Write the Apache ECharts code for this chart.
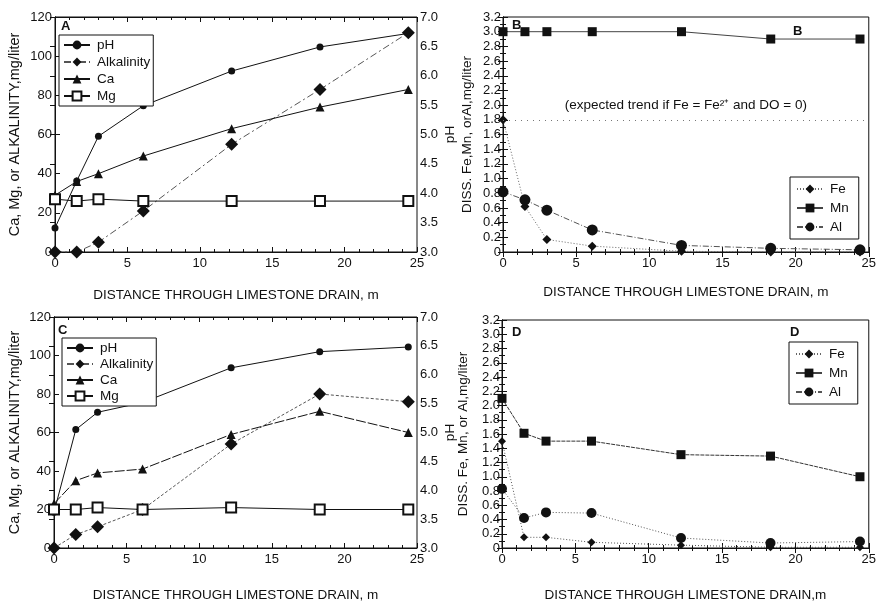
<!DOCTYPE html>
<html>
<head>
<meta charset="utf-8">
<script src="https://cdn.jsdelivr.net/npm/echarts@6/dist/echarts.min.js"></script>
<style>
  html, body { margin: 0; padding: 0; background: #fff; }
  #chart { width: 879px; height: 603px; }
</style>
</head>
<body>
<div id="chart"></div>
<script>
// distance along the drain, m
const dist = [0, 1.5, 3.0, 6.1, 12.2, 18.3, 24.4];

// panel A
const phA = [3.41, 4.21, 4.97, 5.49, 6.08, 6.49, 6.72];
const alkA = [0, 0, 5, 21, 55, 83, 112];
const caA = [29, 36, 40, 49, 63, 74, 83];
const mgA = [27, 26, 27, 26, 26, 26, 26];

// panel B
const feB = [1.8, 0.62, 0.17, 0.08, 0.01, 0.0, 0.0];
const mnB = [3.0, 3.0, 3.0, 3.0, 3.0, 2.9, 2.9];
const alB = [0.82, 0.71, 0.57, 0.30, 0.09, 0.05, 0.03];
const feExpected = 1.8;

// panel C
const phC = [3.62, 5.05, 5.35, 5.52, 6.12, 6.40, 6.48];
const alkC = [0, 7, 11, 20, 54, 80, 76];
const caC = [23, 35, 39, 41, 59, 71, 60];
const mgC = [20, 20, 21, 20, 21, 20, 20];

// panel D
const feD = [1.5, 0.15, 0.15, 0.08, 0.04, 0.01, 0.01];
const mnD = [2.1, 1.61, 1.5, 1.5, 1.31, 1.29, 1.0];
const alD = [0.83, 0.42, 0.50, 0.49, 0.14, 0.07, 0.09];

const legendAC = ['pH', 'Alkalinity', 'Ca', 'Mg'];
const legendBD = ['Fe', 'Mn', 'Al'];

const FONT = "'Liberation Sans', Arial, sans-serif";
const INK = '#111';

function pts(vals) {
  return dist.map((d, i) => [d, vals[i]]);
}

const grids = [
  { left: 55, top: 17, width: 362, height: 235 },
  { left: 503, top: 17, width: 367, height: 235 },
  { left: 54, top: 317, width: 363, height: 238 },
  { left: 502, top: 320, width: 368, height: 235 }
].map(g => Object.assign(g, { show: true, borderColor: INK, borderWidth: 1, backgroundColor: 'transparent' }));

const lineAx = { show: true, lineStyle: { color: INK, width: 1 } };

function xAx(gi, name, gap, top) {
  return {
    type: 'value', gridIndex: gi, min: 0, max: 25, interval: 5,
    position: top ? 'top' : 'bottom',
    name: top ? '' : name, nameLocation: 'middle', nameGap: gap,
    nameTextStyle: { fontFamily: FONT, fontSize: 13.5, color: INK },
    axisLine: lineAx,
    axisTick: { show: true, inside: true, length: 5, lineStyle: { color: INK } },
    minorTick: { show: true, splitNumber: 5, length: 3, lineStyle: { color: INK } },
    axisLabel: { show: !top, fontFamily: FONT, fontSize: 13, color: INK, margin: 5 },
    splitLine: { show: false }
  };
}

function yAx(gi, o) {
  return Object.assign({
    type: 'value', gridIndex: gi,
    nameLocation: 'middle',
    nameTextStyle: { fontFamily: FONT, fontSize: 13.5, color: INK },
    axisLine: lineAx,
    axisTick: { show: true, inside: true, length: 5, lineStyle: { color: INK } },
    axisLabel: { fontFamily: FONT, fontSize: 13, color: INK, margin: 3 },
    splitLine: { show: false }
  }, o);
}

const concLeft = (gi, gap) => yAx(gi, {
  min: 0, max: 120, interval: 20, position: 'left',
  name: 'Ca, Mg, or ALKALINITY,mg/liter', nameGap: gap,
  nameTextStyle: { fontFamily: FONT, fontSize: 14.5, color: INK }
});
const phRight = (gi) => yAx(gi, {
  min: 3, max: 7, interval: 0.5, position: 'right',
  name: 'pH', nameGap: 26, nameRotate: 90,
  axisLabel: { fontFamily: FONT, fontSize: 13, color: INK, margin: 3, formatter: v => v.toFixed(1) }
});
const dissLeft = (gi, name, gap) => yAx(gi, {
  min: 0, max: 3.2, interval: 0.2, position: 'left',
  name: name, nameGap: gap,
  minorTick: { show: true, splitNumber: 2, length: 3, lineStyle: { color: INK } },
  axisLabel: { fontFamily: FONT, fontSize: 13, color: INK, margin: 2,
    formatter: v => (Math.abs(v) < 1e-9 ? '0' : v.toFixed(1)) }
});
const dissRight = (gi) => yAx(gi, {
  min: 0, max: 3.2, interval: 0.2, position: 'right',
  minorTick: { show: true, splitNumber: 2, length: 3, lineStyle: { color: INK } },
  axisLabel: { show: false }
});

const xAxes = [
  xAx(0, 'DISTANCE THROUGH LIMESTONE DRAIN, m', 36),
  xAx(1, 'DISTANCE THROUGH LIMESTONE DRAIN, m', 33),
  xAx(2, 'DISTANCE THROUGH LIMESTONE DRAIN, m', 40),
  xAx(3, 'DISTANCE THROUGH LIMESTONE DRAIN,m', 40),
  xAx(0, '', 0, true), xAx(1, '', 0, true), xAx(2, '', 0, true), xAx(3, '', 0, true)
];

const yAxes = [
  concLeft(0, 33), phRight(0),
  dissLeft(1, 'DISS. Fe,Mn, orAl,mg/liter', 29), dissRight(1),
  concLeft(2, 32), phRight(2),
  dissLeft(3, 'DISS. Fe, Mn, or Al,mg/liter', 32), dissRight(3)
];

function ser(name, xi, yi, vals, sym, size, ls, extra) {
  return Object.assign({
    name: name, type: 'line', xAxisIndex: xi, yAxisIndex: yi,
    data: pts(vals), symbol: sym, symbolSize: size,
    itemStyle: { color: INK, borderWidth: 1 },
    lineStyle: Object.assign({ color: INK, width: 1 }, ls),
    z: 3
  }, extra || {});
}

const series = [
  // A
  ser('pH', 0, 1, phA, 'circle', 7, {}),
  ser('Alkalinity', 0, 0, alkA, 'diamond', 13, { color: '#555', type: [7, 3, 2, 3] }),
  ser('Ca', 0, 0, caA, 'triangle', 9, {}),
  ser('Mg', 0, 0, mgA, 'emptyRect', 10, {}),
  // B
  ser('Fe', 1, 2, feB, 'diamond', 9, { color: '#666', type: [1, 2] }, {
    markLine: {
      silent: true, symbol: 'none',
      lineStyle: { color: '#777', type: [1, 5], width: 1 },
      label: { show: true, position: 'middle', distance: 8, color: INK, fontFamily: FONT, fontSize: 13.5,
        formatter: '(expected trend if Fe = Fe²⁺ and DO = 0)' },
      data: [{ yAxis: feExpected }]
    }
  }),
  ser('Mn', 1, 2, mnB, 'rect', 9, { color: '#444' }),
  ser('Al', 1, 2, alB, 'circle', 11, { color: '#555', type: [6, 2, 1, 2] }),
  // C
  ser('pH', 2, 5, phC, 'circle', 7, {}),
  ser('Alkalinity', 2, 4, alkC, 'diamond', 13, { color: '#555', type: [3, 2] }),
  ser('Ca', 2, 4, caC, 'triangle', 9, { type: [10, 2] }),
  ser('Mg', 2, 4, mgC, 'emptyRect', 10, {}),
  // D
  ser('Fe', 3, 6, feD, 'diamond', 8, { color: '#555', type: [1, 2] }),
  ser('Mn', 3, 6, mnD, 'rect', 9, { color: '#333', type: [4, 1] }),
  ser('Al', 3, 6, alD, 'circle', 10, { color: '#555', type: [1, 2] })
];

function leg(names, left, top, gap, pad) {
  return {
    data: names, orient: 'vertical', left: left, top: top,
    borderColor: INK, borderWidth: 1, backgroundColor: '#fff',
    padding: pad, itemGap: gap, itemWidth: 26, itemHeight: 11,
    selectedMode: false,
    textStyle: { fontFamily: FONT, fontSize: 13.5, color: INK, padding: [0, 0, 0, 2] }
  };
}

const titleStyle = { fontFamily: FONT, fontSize: 13, fontWeight: 'bold', color: INK };
const panelLabels = [
  ['A', 61, 20], ['B', 512, 19], ['B', 793, 25],
  ['C', 58, 324], ['D', 512, 326], ['D', 790, 326]
];

const option = {
  animation: false,
  backgroundColor: '#fff',
  textStyle: { fontFamily: FONT },
  title: panelLabels.map(p => ({ text: p[0], left: p[1], top: p[2], padding: 0, textStyle: titleStyle })),
  grid: grids,
  xAxis: xAxes,
  yAxis: yAxes,
  legend: [
    leg(legendAC, 59, 35, 3, [3, 3, 3, 4]),
    leg(legendBD, 790, 177, 5, [5, 10, 5, 6]),
    leg(legendAC, 62, 338, 2, [3, 3, 3, 4]),
    leg(legendBD, 789, 342, 5, [5, 10, 5, 6])
  ],
  series: series
};

const chart = echarts.init(document.getElementById('chart'));
chart.setOption(option);
</script>
</body>
</html>
